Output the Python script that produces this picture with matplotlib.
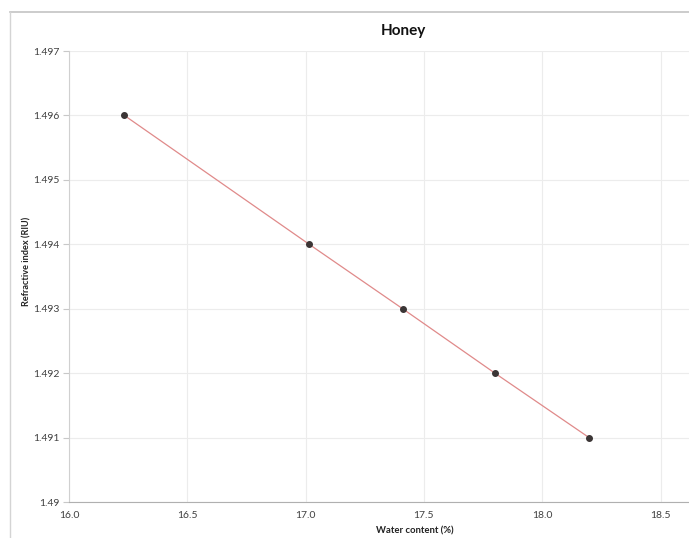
import matplotlib
matplotlib.use('Agg')
import matplotlib.pyplot as plt
from matplotlib.lines import Line2D

# values
water_content = [16.234, 17.015, 17.41, 17.80, 18.198]
refractive_index = [1.496, 1.494, 1.493, 1.492, 1.491]
x_ticks = [16.0, 16.5, 17.0, 17.5, 18.0, 18.5]
y_ticks = [1.490, 1.491, 1.492, 1.493, 1.494, 1.495, 1.496, 1.497]
y_tick_labels = ['1.49', '1.491', '1.492', '1.493', '1.494', '1.495', '1.496', '1.497']

plt.rcParams['font.family'] = ['Lato', 'DejaVu Sans']

W, H = 689, 538
fig = plt.figure(figsize=(W / 100, H / 100), dpi=100)
ax = fig.add_axes([69 / W, 1 - 502 / H, (W - 69) / W, (502 - 51) / H])

ax.plot(water_content, refractive_index, color='#e08a8a', lw=0.9, zorder=2)
ax.scatter(water_content, refractive_index, s=16, color='#3b3535', zorder=3)

ax.set_xlim(16.0, 16.0 + (W - 69) / 236.6)
ax.set_ylim(1.490, 1.497)
ax.set_xticks(x_ticks)
ax.set_xticklabels([f'{v:.1f}' for v in x_ticks])
ax.set_yticks(y_ticks)
ax.set_yticklabels(y_tick_labels)

ax.grid(True, color='#ececec', lw=0.8, zorder=0)
for side in ['top', 'right']:
    ax.spines[side].set_visible(False)
ax.spines['left'].set_color('#d0d0d0')
ax.spines['bottom'].set_color('#b0b0b0')
ax.tick_params(axis='y', length=4, color='#c8c8c8', labelsize=7.5, labelcolor='#404040', pad=3)
ax.tick_params(axis='x', length=0, labelsize=7.5, labelcolor='#404040', pad=6.5)

ax.set_xlabel('Water content (%)', fontsize=6.8, fontweight='bold', color='#222222')
ax.xaxis.label.set_va('center')
ax.xaxis.set_label_coords((415 - 69) / (W - 69), (502 - 531) / 451)
ax.set_ylabel('Refractive index (RIU)', fontsize=6.6, fontweight='bold', color='#222222')
ax.yaxis.label.set_va('center')
ax.yaxis.set_label_coords((27 - 69) / (W - 69), (502 - 261) / 451)

fig.text(403 / W, 1 - 31.5 / H, 'Honey', ha='center', va='center', fontsize=11, fontweight='bold',
         color='#111111')

# outer chart frame (top and left edges visible)
fig.add_artist(Line2D([9.5 / W, 1], [1 - 12 / H, 1 - 12 / H], color='#c4c4c4', lw=1.2))
fig.add_artist(Line2D([9.5 / W, 9.5 / W], [0, 1 - 12 / H], color='#d4d4d4', lw=1.0))

fig.savefig('out.png', dpi=100)
